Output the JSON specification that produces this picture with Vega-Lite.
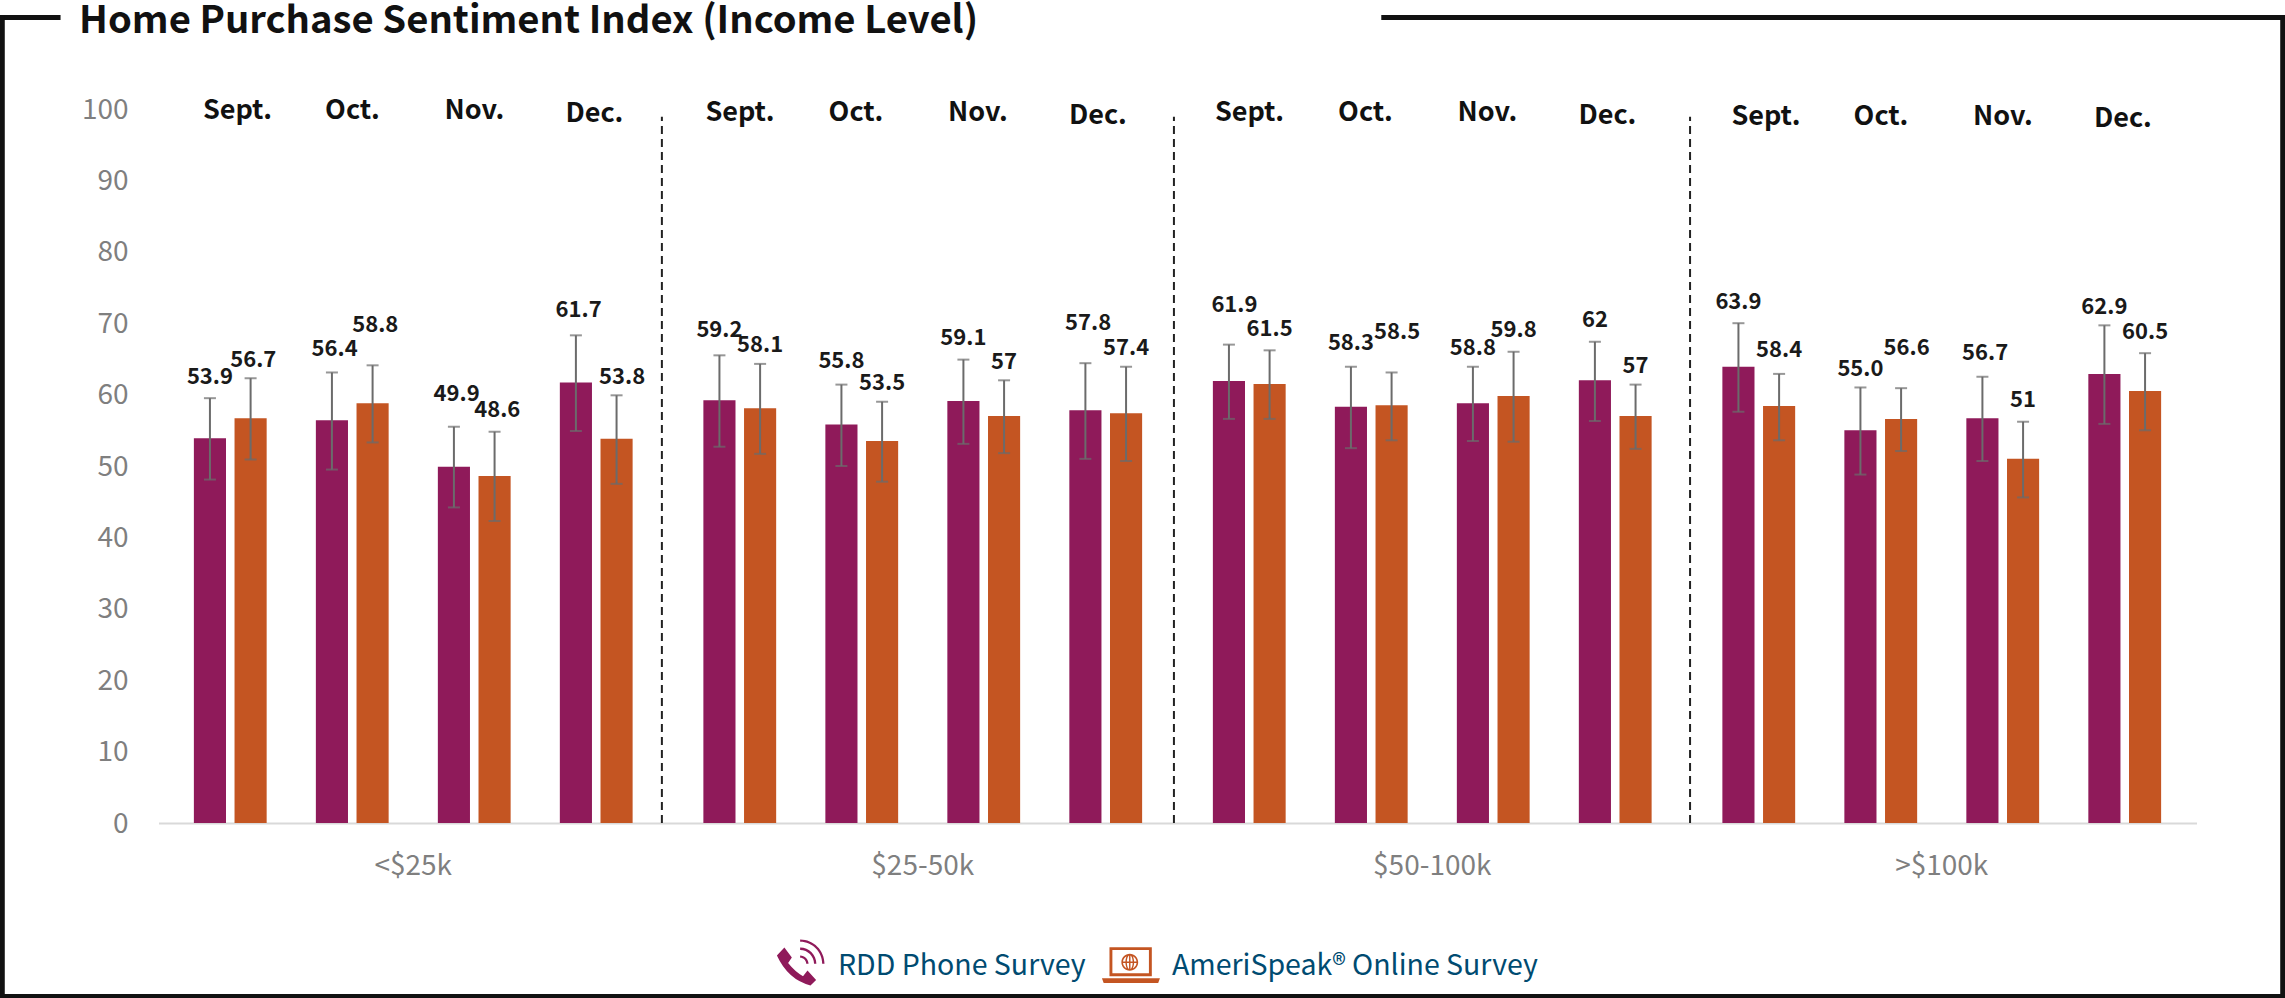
{
"$schema":"https://vega.github.io/schema/vega-lite/v6.json",
"width":2285,"height":998,"padding":0,"autosize":{"type":"none"},"background":"#ffffff",
"title":{"text":"Home Purchase Sentiment Index (Income Level)","anchor":"start","frame":"group","orient":"top","offset":-41,"dx":79,"font":"Noto Sans CJK JP","fontSize":38.2,"fontWeight":"bold","color":"#111111"},
"config":{"view":{"stroke":null},"font":"Noto Sans CJK JP","axis":{"grid":false,"ticks":false,"title":null}},
"datasets":{"survey":[
{"group":"<$25k","month":"Sept.","survey":"RDD Phone Survey","slot":"Sept.-RDD","value":53.9,"label":"53.9","lower":48.1,"upper":59.5},
{"group":"<$25k","month":"Sept.","survey":"AmeriSpeak® Online Survey","slot":"Sept.-Online","value":56.7,"label":"56.7","lower":50.9,"upper":62.3},
{"group":"<$25k","month":"Oct.","survey":"RDD Phone Survey","slot":"Oct.-RDD","value":56.4,"label":"56.4","lower":49.5,"upper":63.1},
{"group":"<$25k","month":"Oct.","survey":"AmeriSpeak® Online Survey","slot":"Oct.-Online","value":58.8,"label":"58.8","lower":53.3,"upper":64.1},
{"group":"<$25k","month":"Nov.","survey":"RDD Phone Survey","slot":"Nov.-RDD","value":49.9,"label":"49.9","lower":44.2,"upper":55.5},
{"group":"<$25k","month":"Nov.","survey":"AmeriSpeak® Online Survey","slot":"Nov.-Online","value":48.6,"label":"48.6","lower":42.3,"upper":54.8},
{"group":"<$25k","month":"Dec.","survey":"RDD Phone Survey","slot":"Dec.-RDD","value":61.7,"label":"61.7","lower":54.9,"upper":68.3},
{"group":"<$25k","month":"Dec.","survey":"AmeriSpeak® Online Survey","slot":"Dec.-Online","value":53.8,"label":"53.8","lower":47.5,"upper":59.9},
{"group":"$25-50k","month":"Sept.","survey":"RDD Phone Survey","slot":"Sept.-RDD","value":59.2,"label":"59.2","lower":52.7,"upper":65.5},
{"group":"$25-50k","month":"Sept.","survey":"AmeriSpeak® Online Survey","slot":"Sept.-Online","value":58.1,"label":"58.1","lower":51.7,"upper":64.3},
{"group":"$25-50k","month":"Oct.","survey":"RDD Phone Survey","slot":"Oct.-RDD","value":55.8,"label":"55.8","lower":50.0,"upper":61.4},
{"group":"$25-50k","month":"Oct.","survey":"AmeriSpeak® Online Survey","slot":"Oct.-Online","value":53.5,"label":"53.5","lower":47.8,"upper":59.0},
{"group":"$25-50k","month":"Nov.","survey":"RDD Phone Survey","slot":"Nov.-RDD","value":59.1,"label":"59.1","lower":53.1,"upper":64.9},
{"group":"$25-50k","month":"Nov.","survey":"AmeriSpeak® Online Survey","slot":"Nov.-Online","value":57,"label":"57","lower":51.8,"upper":62.0},
{"group":"$25-50k","month":"Dec.","survey":"RDD Phone Survey","slot":"Dec.-RDD","value":57.8,"label":"57.8","lower":51.0,"upper":64.4},
{"group":"$25-50k","month":"Dec.","survey":"AmeriSpeak® Online Survey","slot":"Dec.-Online","value":57.4,"label":"57.4","lower":50.7,"upper":63.9},
{"group":"$50-100k","month":"Sept.","survey":"RDD Phone Survey","slot":"Sept.-RDD","value":61.9,"label":"61.9","lower":56.6,"upper":67.0},
{"group":"$50-100k","month":"Sept.","survey":"AmeriSpeak® Online Survey","slot":"Sept.-Online","value":61.5,"label":"61.5","lower":56.6,"upper":66.2},
{"group":"$50-100k","month":"Oct.","survey":"RDD Phone Survey","slot":"Oct.-RDD","value":58.3,"label":"58.3","lower":52.5,"upper":63.9},
{"group":"$50-100k","month":"Oct.","survey":"AmeriSpeak® Online Survey","slot":"Oct.-Online","value":58.5,"label":"58.5","lower":53.6,"upper":63.1},
{"group":"$50-100k","month":"Nov.","survey":"RDD Phone Survey","slot":"Nov.-RDD","value":58.8,"label":"58.8","lower":53.5,"upper":63.9},
{"group":"$50-100k","month":"Nov.","survey":"AmeriSpeak® Online Survey","slot":"Nov.-Online","value":59.8,"label":"59.8","lower":53.4,"upper":66.0},
{"group":"$50-100k","month":"Dec.","survey":"RDD Phone Survey","slot":"Dec.-RDD","value":62,"label":"62","lower":56.3,"upper":67.4},
{"group":"$50-100k","month":"Dec.","survey":"AmeriSpeak® Online Survey","slot":"Dec.-Online","value":57,"label":"57","lower":52.4,"upper":61.4},
{"group":">$100k","month":"Sept.","survey":"RDD Phone Survey","slot":"Sept.-RDD","value":63.9,"label":"63.9","lower":57.6,"upper":70.0},
{"group":">$100k","month":"Sept.","survey":"AmeriSpeak® Online Survey","slot":"Sept.-Online","value":58.4,"label":"58.4","lower":53.6,"upper":62.9},
{"group":">$100k","month":"Oct.","survey":"RDD Phone Survey","slot":"Oct.-RDD","value":55.0,"label":"55.0","lower":48.8,"upper":61.0},
{"group":">$100k","month":"Oct.","survey":"AmeriSpeak® Online Survey","slot":"Oct.-Online","value":56.6,"label":"56.6","lower":52.1,"upper":60.9},
{"group":">$100k","month":"Nov.","survey":"RDD Phone Survey","slot":"Nov.-RDD","value":56.7,"label":"56.7","lower":50.7,"upper":62.5},
{"group":">$100k","month":"Nov.","survey":"AmeriSpeak® Online Survey","slot":"Nov.-Online","value":51,"label":"51","lower":45.6,"upper":56.2},
{"group":">$100k","month":"Dec.","survey":"RDD Phone Survey","slot":"Dec.-RDD","value":62.9,"label":"62.9","lower":55.9,"upper":69.7},
{"group":">$100k","month":"Dec.","survey":"AmeriSpeak® Online Survey","slot":"Dec.-Online","value":60.5,"label":"60.5","lower":55.0,"upper":65.8}
],"one":[{}]},
"resolve":{"scale":{"x":"independent","y":"independent"}},
"layer":[
{"data":{"name":"survey"},
 "resolve":{"legend":{"color":"independent","shape":"independent"}},
 "encoding":{
  "x":{"field":"group","type":"nominal","sort":null,"scale":{"domain":["<$25k","$25-50k","$50-100k",">$100k"],"range":[158.5,2196.5],"paddingInner":0,"paddingOuter":0},
   "axis":{"offset":-175,"domainColor":"#d9d9d9","domainWidth":2,"labelAngle":0,"labelColor":"#7f7f7f","labelFontSize":28,"labelPadding":29,"labelFont":"Noto Sans CJK JP"}},
  "xOffset":{"field":"slot","type":"nominal","sort":null,"scale":{"domain":["Sept.-RDD","Sept.-Online","gap1","Oct.-RDD","Oct.-Online","gap2","Nov.-RDD","Nov.-Online","gap3","Dec.-RDD","Dec.-Online"],"paddingInner":0.21,"paddingOuter":0.87}}
 },
 "layer":[
 {"mark":{"type":"bar"},
  "encoding":{
   "y":{"field":"value","type":"quantitative","scale":{"domain":[0,100],"range":[823,109],"nice":false},
    "axis":{"orient":"left","offset":-128,"domain":false,"values":[0,10,20,30,40,50,60,70,80,90,100],"labelColor":"#7f7f7f","labelFontSize":28,"labelPadding":0,"labelOffset":1,"labelFont":"Noto Sans CJK JP"}},
   "color":{"field":"survey","type":"nominal","scale":{"domain":["RDD Phone Survey","AmeriSpeak® Online Survey"],"range":["#8f1a5a","#c45522"]},"legend":null}
  }},
 {"mark":{"type":"rule","color":"#6b6b6b","strokeWidth":2},
  "encoding":{"y":{"field":"lower","type":"quantitative"},"y2":{"field":"upper"}}},
 {"mark":{"type":"tick","orient":"horizontal","color":"#6b6b6b","thickness":2,"size":12},
  "encoding":{"y":{"field":"upper","type":"quantitative"}}},
 {"mark":{"type":"tick","orient":"horizontal","color":"#6b6b6b","thickness":2,"size":12},
  "encoding":{"y":{"field":"lower","type":"quantitative"}}},
 {"mark":{"type":"text","font":"Noto Sans CJK JP","fontWeight":"bold","fontSize":22,"color":"#1a1a1a","baseline":"middle",
   "dx":{"expr":"indexof(['61.9','58.5','53.8','56.6'],datum.label)>=0?5.5:((indexof(['56.7','49.9','48.6','56.4','61.7','57.8'],datum.label)>=0||(datum.label=='58.8'&&datum.group=='<$25k'))?2.7:0)"},
   "dy":{"expr":"(indexof(['57.8','61.9','58.5','56.6'],datum.label)>=0||(datum.label=='58.8'&&datum.group=='<$25k'))?-40:(datum.label=='49.9'?-33:(indexof(['61.7','59.2'],datum.label)>=0?-25.5:((indexof(['56.4','55.8','58.3','58.4'],datum.label)>=0||(datum.label=='56.7'&&datum.group=='>$100k'))?-23.5:(indexof(['53.8','58.1','53.5','57','57.4','55.0','58.8','56.7','62.9'],datum.label)>=0?-18.5:-21.5))))"}},
  "encoding":{"y":{"field":"upper","type":"quantitative"},"text":{"field":"label","type":"nominal"}}},
 {"transform":[{"filter":"datum.survey=='RDD Phone Survey'"}],
  "mark":{"type":"text","font":"Noto Sans CJK JP","fontWeight":"bold","fontSize":27,"color":"#111111","baseline":"middle",
   "dx":{"expr":"20.5+(datum.month=='Sept.'&&(datum.group=='<$25k'||datum.group=='>$100k')?7:(datum.month=='Dec.'?-2:0))-((datum.group=='$25-50k'||datum.group=='$50-100k')&&datum.month!='Sept.'?6:0)"},
   "dy":{"expr":"datum.group=='<$25k'?(datum.month=='Dec.'?5:2):(datum.group=='$25-50k'?(datum.month=='Dec.'?7:4):(datum.group=='$50-100k'?(datum.month=='Dec.'?7:4):(datum.month=='Dec.'?10:8)))"}},
  "encoding":{"y":{"datum":100,"type":"quantitative"},"text":{"field":"month","type":"nominal"}}},
 {"mark":{"type":"point","filled":true,"size":0},
  "encoding":{"y":{"datum":0,"type":"quantitative"},
   "color":{"field":"survey","type":"nominal","legend":{"orient":"none","legendX":772,"legendY":937,"direction":"horizontal","title":null,"symbolSize":3364,"symbolOpacity":1,"symbolStrokeWidth":0,"gridAlign":"none","columnPadding":15,"labelOffset":8,"labelFontSize":28.5,"labelColor":"#004b71","labelFont":"Noto Sans CJK JP","labelLimit":500}},
   "shape":{"field":"survey","type":"nominal","scale":{"domain":["RDD Phone Survey","AmeriSpeak® Online Survey"],"range":["M-.573 -.641 L-.316 -.293 L-.444 -.1 Q-.187 .221 .07 .35 L.224 .158 L.521 .479 L.327 .673 Q-.444 .479 -.831 -.358 Z M-.03 -.914 A.84 .84 0 0 1 .81 -.074 L.73 -.074 A.76 .76 0 0 0 -.03 -.834 Z M-.03 -.634 A.56 .56 0 0 1 .53 -.074 L.45 -.074 A.48 .48 0 0 0 -.03 -.554 Z M-.03 -.364 A.29 .29 0 0 1 .26 -.074 L.18 -.074 A.21 .21 0 0 0 -.03 -.284 Z","M-.88 -.65 H.58 V.35 H-.88 Z M-.78 -.55 V.25 H.48 V-.55 Z M-1.14 .42 H.86 L.8 .59 H-1.08 Z M-.47 -.13 A.29 .29 0 1 1 .11 -.13 A.29 .29 0 1 1 -.47 -.13 Z M-.415 -.13 A.235 .235 0 1 0 .055 -.13 A.235 .235 0 1 0 -.415 -.13 Z M-.45 -.155 H.09 V-.105 H-.45 Z M-.205 -.4 H-.155 V.14 H-.205 Z M-.33 -.13 A.15 .29 0 1 1 -.03 -.13 A.15 .29 0 1 1 -.33 -.13 Z M-.28 -.13 A.1 .24 0 1 0 -.08 -.13 A.1 .24 0 1 0 -.28 -.13 Z"]},"legend":{"orient":"none","legendX":772,"legendY":937,"direction":"horizontal","title":null,"symbolSize":3364,"symbolOpacity":1,"symbolStrokeWidth":0,"gridAlign":"none","columnPadding":15,"labelOffset":8,"labelFontSize":28.5,"labelColor":"#004b71","labelFont":"Noto Sans CJK JP","labelLimit":500}}
  }},
 {"data":{"name":"one"},"mark":{"type":"rule","color":"#222222","strokeWidth":2,"strokeDash":[8,5]},
  "encoding":{"xOffset":null,"x":{"datum":"<$25k","type":"nominal","bandPosition":0.988},"y":{"datum":0,"type":"quantitative"},"y2":{"datum":98.9}}},
 {"data":{"name":"one"},"mark":{"type":"rule","color":"#222222","strokeWidth":2,"strokeDash":[8,5]},
  "encoding":{"xOffset":null,"x":{"datum":"$25-50k","type":"nominal","bandPosition":0.993},"y":{"datum":0,"type":"quantitative"},"y2":{"datum":98.9}}},
 {"data":{"name":"one"},"mark":{"type":"rule","color":"#222222","strokeWidth":2,"strokeDash":[8,5]},
  "encoding":{"xOffset":null,"x":{"datum":"$50-100k","type":"nominal","bandPosition":1.006},"y":{"datum":0,"type":"quantitative"},"y2":{"datum":98.9}}}
 ]},
{"data":{"name":"one"},
 "encoding":{"x":{"datum":0,"type":"quantitative","scale":{"domain":[0,1]},"axis":null},"y":{"datum":0,"type":"quantitative","scale":{"domain":[0,1]},"axis":null}},
 "layer":[
 {"mark":{"type":"rule","color":"#111111","strokeWidth":5},"encoding":{"x":{"datum":0},"x2":{"datum":0.0265},"y":{"datum":0.9825}}},
 {"mark":{"type":"rule","color":"#111111","strokeWidth":5},"encoding":{"x":{"datum":0.6045},"x2":{"datum":1},"y":{"datum":0.9825}}},
 {"mark":{"type":"rule","color":"#111111","strokeWidth":5},"encoding":{"x":{"datum":0.001},"y":{"datum":0},"y2":{"datum":0.985}}},
 {"mark":{"type":"rule","color":"#111111","strokeWidth":5},"encoding":{"x":{"datum":0.999},"y":{"datum":0},"y2":{"datum":0.985}}},
 {"mark":{"type":"rule","color":"#111111","strokeWidth":5},"encoding":{"x":{"datum":0},"x2":{"datum":1},"y":{"datum":0.0015}}}
 ]}
]
}
